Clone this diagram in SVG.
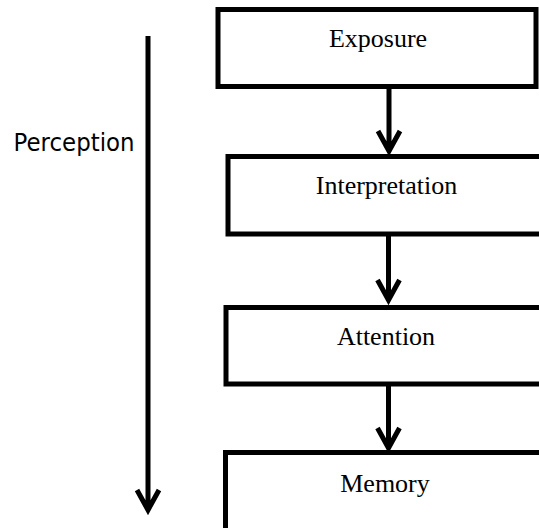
<svg xmlns="http://www.w3.org/2000/svg" width="539" height="528" viewBox="0 0 539 528">
<style>
.box{fill:#fff;stroke:#000;stroke-width:5}
.lbl{font-family:"Liberation Serif","Times New Roman",serif;font-size:26px;fill:#000;text-anchor:middle}
.side{font-family:"DejaVu Sans",Tahoma,sans-serif;font-size:24px;fill:#000}
.con{fill:none;stroke:#000;stroke-width:5}
</style>
<rect width="539" height="528" fill="#fff"/>
<g id="exposure"><rect class="box" x="218" y="9.5" width="318" height="77"/><text class="lbl" x="378" y="47">Exposure</text></g>
<g id="interpretation"><rect class="box" x="228" y="156.5" width="320" height="77.5"/><text class="lbl" x="386.5" y="194">Interpretation</text></g>
<g id="attention"><rect class="box" x="226" y="307.5" width="322" height="76.5"/><text class="lbl" x="386" y="345">Attention</text></g>
<g id="memory"><rect class="box" x="225.5" y="452.5" width="322" height="90"/><text class="lbl" x="385" y="492">Memory</text></g>
<g id="perception"><text class="side" x="13.5" y="151" textLength="121" lengthAdjust="spacingAndGlyphs">Perception</text></g>
<g id="connectors">
<path class="con" d="M389 89V152M378 131L389 151L400 131"/>
<path class="con" d="M388.5 236V301M377.5 280L388.5 300L399.5 280"/>
<path class="con" d="M388.5 386V449M377.5 428L388.5 448L399.5 428"/>
<path class="con" d="M148 36V510M137 490L148 510L159 490"/>
</g>
</svg>
